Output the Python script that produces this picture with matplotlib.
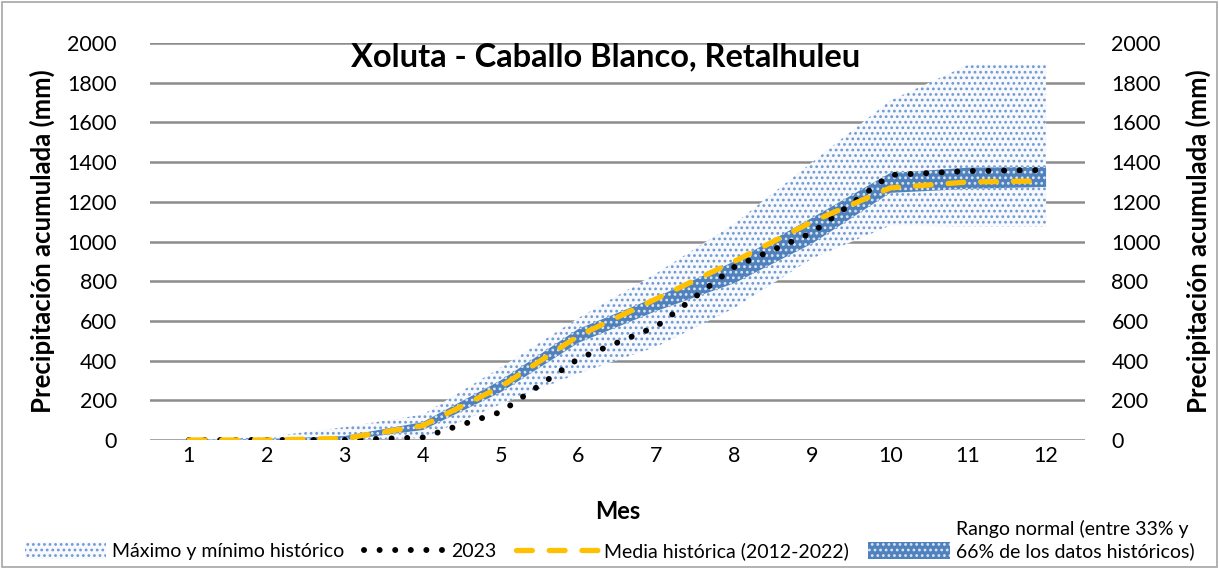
import matplotlib.pyplot as plt
from matplotlib.patches import Rectangle
import numpy as np

# monthly accumulated rainfall (mm)
meses = [1, 2, 3, 4, 5, 6, 7, 8, 9, 10, 11, 12]
maximo = [0, 15, 65, 128, 365, 615, 840, 1090, 1400, 1710, 1890, 1890]
minimo = [0, 0, 0, 10, 180, 335, 470, 665, 915, 1080, 1075, 1075]
p33 = [0, 0, 0, 50, 240, 490, 650, 790, 990, 1245, 1265, 1275]
p66 = [0, 5, 20, 90, 300, 560, 720, 900, 1120, 1345, 1372, 1376]
media = [0, 0, 8, 72, 268, 525, 712, 900, 1100, 1270, 1300, 1305]
y2023 = [0, 0, 0, 13, 141, 410, 572, 872, 1045, 1335, 1355, 1360]
yticks = [0, 200, 400, 600, 800, 1000, 1200, 1400, 1600, 1800, 2000]

plt.rcParams['font.family'] = ['Lato', 'DejaVu Sans']
plt.rcParams['hatch.linewidth'] = 1.2

fig = plt.figure(figsize=(12.19, 5.69), dpi=100)
ax = fig.add_axes([150/1219, 1 - 440/569, 935/1219, 397/569])

# chart area border
fig.patches.append(Rectangle((0.002, 0.003), 0.996, 0.994, transform=fig.transFigure,
                             fill=False, edgecolor='#a6a6a6', linewidth=1.2))

h_max = ax.fill_between(meses, minimo, maximo, facecolor='#f7f9fd', edgecolor='#6f9ad3',
                        hatch='...', linewidth=0, zorder=2, label='Máximo y mínimo histórico')
h_norm = ax.fill_between(meses, p33, p66, facecolor='#4f81bd', edgecolor='#dbe5f3',
                         hatch='...', linewidth=0, zorder=3,
                         label='66% de los datos históricos)')
h_23, = ax.plot(meses, y2023, color='black', linewidth=4.3, linestyle=(0, (0.01, 2.6)),
                dash_capstyle='round', zorder=4, label='2023')
h_med, = ax.plot(meses, media, color='#ffc000', linewidth=3.8, linestyle=(0, (3, 3.2)),
                 dash_capstyle='round', zorder=5, label='Media histórica (2012-2022)')

ax.set_xlim(0.5, 12.5)
ax.set_ylim(0, 2000)
ax.set_xticks(meses)
ax.set_yticks(yticks)
ax.grid(axis='y', color='#8c8c8c', linewidth=1.8, zorder=0)
ax.set_axisbelow(True)
for s in ax.spines.values():
    s.set_visible(False)
ax.tick_params(length=0, labelsize=15.5)
ax.tick_params(axis='y', pad=24)
ax.tick_params(axis='x', pad=4)
ax.set_xlabel('Mes', fontsize=17, fontweight='bold', labelpad=25)
ax.set_ylabel('Precipitación acumulada (mm)', fontsize=18.5, fontweight='bold', labelpad=9)

ax2 = ax.twinx()
ax2.set_ylim(0, 2000)
ax2.set_yticks(yticks)
for s in ax2.spines.values():
    s.set_visible(False)
ax2.tick_params(length=0, labelsize=15.5, pad=19)
ax2.set_ylabel('Precipitación acumulada (mm)', fontsize=18.5, fontweight='bold', labelpad=18)

ax.text(0.487, 0.965, 'Xoluta - Caballo Blanco, Retalhuleu', transform=ax.transAxes,
        ha='center', va='center', fontsize=23.5, fontweight='bold', zorder=6)

leg = fig.legend(handles=[h_max, h_23, h_med, h_norm], loc='lower center',
                 bbox_to_anchor=(0.5, 0.0), ncol=4, frameon=False, fontsize=14,
                 handlelength=4.2, handleheight=1.0, columnspacing=1.0,
                 handletextpad=0.3, borderaxespad=0.05)

# first line of the two-line legend label, above the last entry
fig.canvas.draw()
bb = leg.get_texts()[3].get_window_extent().transformed(fig.transFigure.inverted())
fig.text(bb.x0, bb.y1 + 0.008, 'Rango normal (entre 33% y', fontsize=14, ha='left', va='bottom')

plt.savefig('out.png', dpi=100)
